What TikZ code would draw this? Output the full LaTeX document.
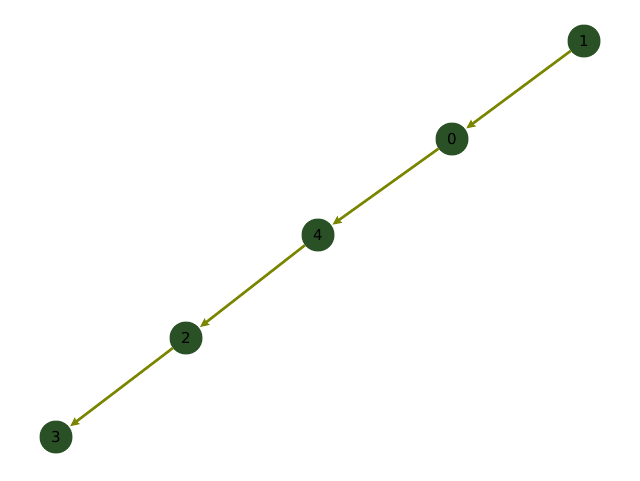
\documentclass[tikz,border=0pt]{standalone}
\usepackage{fontspec}
\setmainfont{DejaVu Sans}
\usetikzlibrary{arrows.meta}
\definecolor{nodegreen}{RGB}{42,80,38}
\definecolor{edgeolive}{RGB}{122,134,0}
\tikzset{
	vertex/.style={circle, fill=nodegreen, minimum size=33pt, inner sep=0pt, font=\fontsize{15}{17}\selectfont},
	link/.style={draw=edgeolive, line width=2.6pt, -{Stealth[length=9pt, width=8pt, inset=1pt]}, shorten >=1pt}
}

\begin{document}
\begin{tikzpicture}[x=1pt, y=-1pt]
	\useasboundingbox (0,0) rectangle (640,480);
	
	% vertices
	\node[vertex] (v1) at (584, 41) {1};
	\node[vertex] (v0) at (452, 139) {0};
	\node[vertex] (v4) at (318, 235) {4};
	\node[vertex] (v2) at (186, 338) {2};
	\node[vertex] (v3) at (56, 437) {3};
	
	% edges
	\draw[link] (v1) -- (v0);
	\draw[link] (v0) -- (v4);
	\draw[link] (v4) -- (v2);
	\draw[link] (v2) -- (v3);
	
\end{tikzpicture}
\end{document}
